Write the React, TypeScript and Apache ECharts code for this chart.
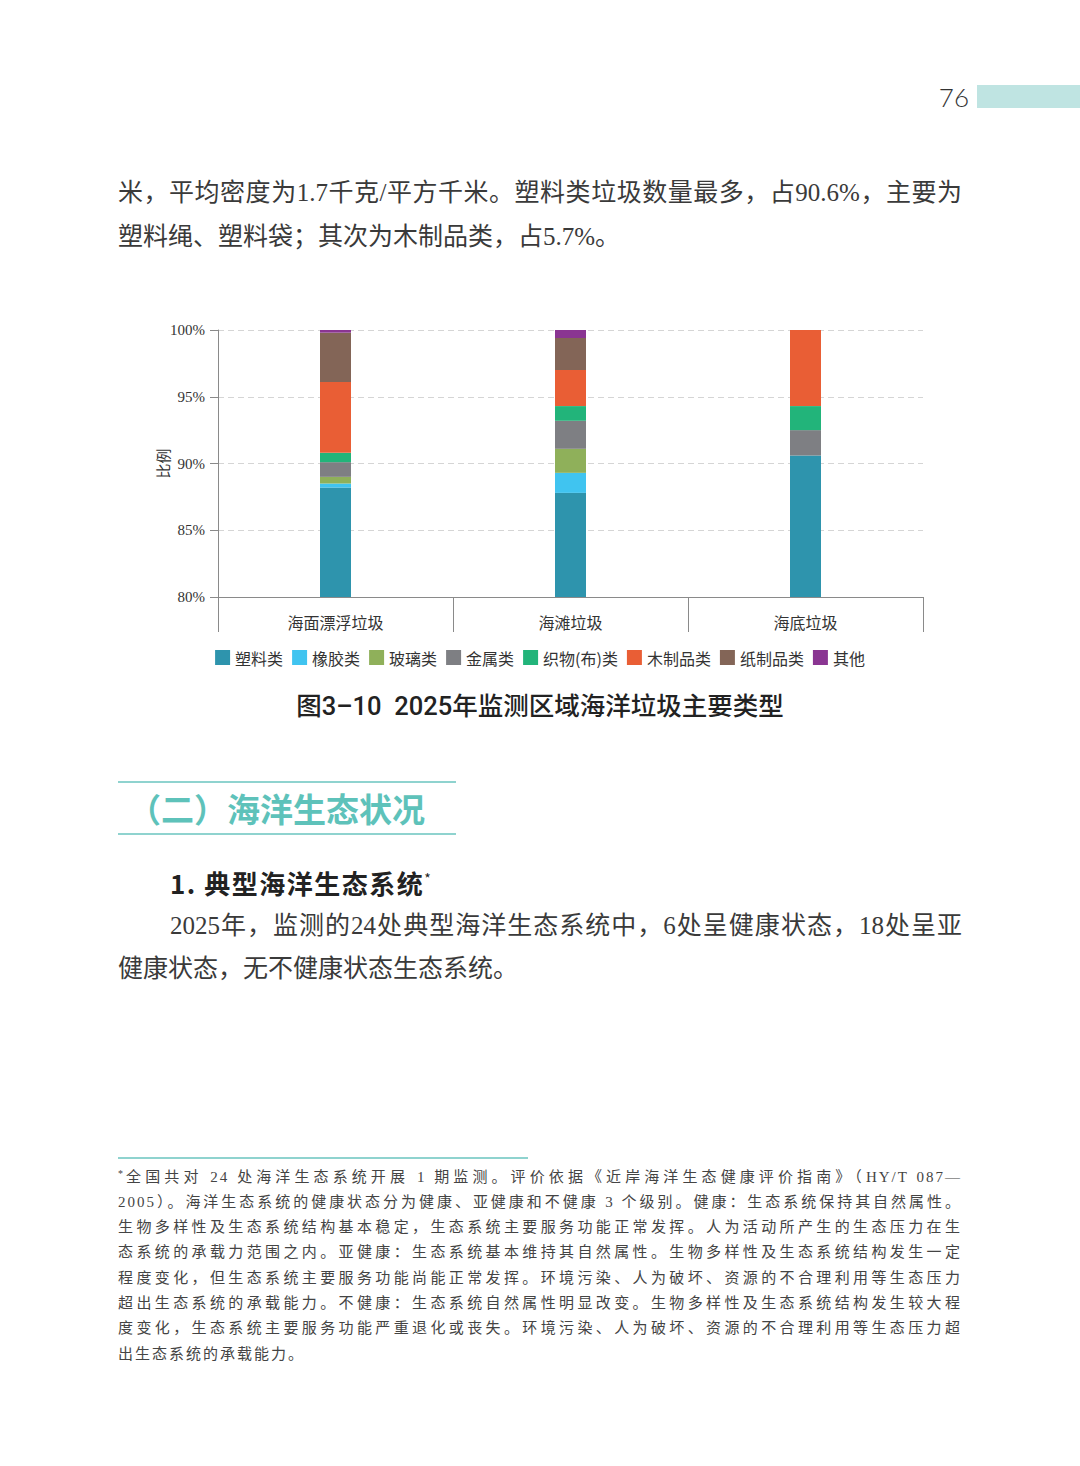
import { useEffect, useRef } from "react";
import type { ReactNode } from "react";
import * as echarts from "echarts";

// 垃圾类别与各区域占比（%）
const categories = ["海面漂浮垃圾", "海滩垃圾", "海底垃圾"];
const typeNames = ["塑料类", "橡胶类", "玻璃类", "金属类", "织物(布)类", "木制品类", "纸制品类", "其他"];
const typeColors = ["#2e94ad", "#40c4f0", "#8fb05a", "#7e7f83", "#22b47a", "#e95e35", "#836557", "#8a3592"];
const plastic = [88.2, 87.8, 90.6];
const rubber = [0.3, 1.5, 0];
const glass = [0.5, 1.8, 0];
const metal = [1.1, 2.1, 1.9];
const textile = [0.7, 1.1, 1.8];
const wood = [5.3, 2.7, 5.7];
const paper = [3.7, 2.4, 0];
const other = [0.2, 0.6, 0];
const typeValues = [plastic, rubber, glass, metal, textile, wood, paper, other];

const caption = "图3–10  2025年监测区域海洋垃圾主要类型";

const para1 = [
  "米，平均密度为1.7千克/平方千米。塑料类垃圾数量最多，占90.6%，主要为",
  "塑料绳、塑料袋；其次为木制品类，占5.7%。",
];
const para2 = [
  "2025年，监测的24处典型海洋生态系统中，6处呈健康状态，18处呈亚",
  "健康状态，无不健康状态生态系统。",
];
const footnote = [
  "全国共对 24 处海洋生态系统开展 1 期监测。评价依据《近岸海洋生态健康评价指南》（HY/T 087—",
  "2005）。海洋生态系统的健康状态分为健康、亚健康和不健康 3 个级别。健康：生态系统保持其自然属性。",
  "生物多样性及生态系统结构基本稳定，生态系统主要服务功能正常发挥。人为活动所产生的生态压力在生",
  "态系统的承载力范围之内。亚健康：生态系统基本维持其自然属性。生物多样性及生态系统结构发生一定",
  "程度变化，但生态系统主要服务功能尚能正常发挥。环境污染、人为破坏、资源的不合理利用等生态压力",
  "超出生态系统的承载能力。不健康：生态系统自然属性明显改变。生物多样性及生态系统结构发生较大程",
  "度变化，生态系统主要服务功能严重退化或丧失。环境污染、人为破坏、资源的不合理利用等生态压力超",
  "出生态系统的承载能力。",
];

const serifCjk = '"Liberation Serif", "Noto Sans CJK SC", serif';
const sansCjk = '"Noto Sans CJK SC", sans-serif';
const teal = "#5ec2ba";
const tealLine = "#8fd3cf";
const axisGray = "#8a8a8a";

function TrashChart() {
  const nodeRef = useRef<HTMLDivElement | null>(null);

  useEffect(() => {
    if (!nodeRef.current) return;
    const chart = echarts.init(nodeRef.current, undefined, { renderer: "svg" });
    chart.setOption({
      animation: false,
      grid: { left: 218, right: 157, top: 30, bottom: 143 },
      title: {
        text: caption,
        left: "center",
        top: 393,
        padding: 0,
        textStyle: { fontFamily: '"Roboto", "Noto Sans CJK SC", sans-serif', fontSize: 25.5, fontWeight: 500, color: "#222" },
      },
      legend: {
        data: typeNames,
        top: 349.5,
        left: "center",
        padding: 0,
        icon: "rect",
        itemWidth: 15,
        itemHeight: 15,
        itemGap: 9,
        textStyle: { fontFamily: sansCjk, fontSize: 16, color: "#333" },
      },
      xAxis: {
        type: "category",
        data: categories,
        axisLine: { lineStyle: { color: axisGray, width: 1 } },
        axisTick: { show: true, length: 35, interval: 0, lineStyle: { color: axisGray } },
        axisLabel: { margin: 17, fontSize: 16, color: "#333", fontFamily: sansCjk },
      },
      yAxis: {
        type: "value",
        min: 80,
        max: 100,
        interval: 5,
        name: "比例",
        nameLocation: "middle",
        nameGap: 48,
        nameRotate: 90,
        nameMoveOverlap: false,
        nameTextStyle: { fontFamily: sansCjk, fontSize: 15, color: "#333" },
        axisLine: { show: true, lineStyle: { color: axisGray, width: 1 } },
        axisTick: { show: true, length: 8, lineStyle: { color: axisGray } },
        axisLabel: { formatter: "{value}%", margin: 13, fontSize: 15, color: "#333", fontFamily: '"Liberation Serif", serif' },
        splitLine: { lineStyle: { color: "#d5d5d5", type: [6, 4] } },
      },
      series: typeNames.map((name, i) => ({
        name,
        type: "bar",
        stack: "total",
        barWidth: 31,
        itemStyle: { color: typeColors[i] },
        data: typeValues[i],
      })),
    });
    return () => chart.dispose();
  }, []);

  return <div ref={nodeRef} style={{ position: "absolute", left: 0, top: 300, width: 1080, height: 440 }} />;
}

function line(key: string, content: ReactNode, left: number, top: number, width: number, justify: boolean, style: React.CSSProperties) {
  return (
    <div
      key={key}
      style={{
        position: "absolute",
        left,
        top,
        width,
        textAlign: justify ? "justify" : "left",
        textAlignLast: justify ? "justify" : "left",
        whiteSpace: "nowrap",
        ...style,
      }}
    >
      {content}
    </div>
  );
}

export default function App() {
  const body: React.CSSProperties = { fontFamily: serifCjk, fontSize: 25, lineHeight: "44px", color: "#3a3a3a" };
  const note: React.CSSProperties = { fontFamily: serifCjk, fontSize: 15, lineHeight: "25px", color: "#444", letterSpacing: 2 };

  return (
    <div style={{ position: "absolute", left: 0, top: 0, width: 1080, height: 1466, background: "#fff", overflow: "hidden" }}>
      {/* 页码 */}
      <div style={{ position: "absolute", right: 111, top: 82, fontFamily: "Lato, sans-serif", fontWeight: 300, fontSize: 26, lineHeight: "30px", color: "#333" }}>76</div>
      <div style={{ position: "absolute", left: 977, top: 85, width: 103, height: 23, background: "#bfe4e2" }} />

      {line("p1a", para1[0], 118, 171, 844, true, body)}
      {line("p1b", para1[1], 118, 215, 844, false, body)}

      <TrashChart />

      {/* 小节标题 */}
      <div style={{ position: "absolute", left: 118, top: 781, width: 338, height: 1.5, background: tealLine }} />
      <div style={{ position: "absolute", left: 128, top: 788, fontFamily: sansCjk, fontWeight: "bold", fontSize: 33, lineHeight: "40px", color: teal, whiteSpace: "nowrap" }}>
        （二）海洋生态状况
      </div>
      <div style={{ position: "absolute", left: 118, top: 833, width: 338, height: 1.5, background: tealLine }} />

      <div style={{ position: "absolute", left: 170, top: 865, fontFamily: sansCjk, fontWeight: "bold", fontSize: 26, lineHeight: "36px", letterSpacing: 1.5, color: "#222", whiteSpace: "nowrap" }}>
        1. 典型海洋生态系统<span style={{ fontSize: 14, fontWeight: "normal", position: "relative", top: -10 }}>*</span>
      </div>

      {line("p2a", para2[0], 170, 904, 792, true, body)}
      {line("p2b", para2[1], 118, 947, 844, false, body)}

      {/* 脚注 */}
      <div style={{ position: "absolute", left: 118, top: 1157, width: 410, height: 1.5, background: tealLine }} />
      {footnote.map((t, i) =>
        line(
          "fn" + i,
          i === 0 ? (
            <>
              <span style={{ fontSize: 10, position: "relative", top: -5, letterSpacing: 1 }}>*</span>
              {t}
            </>
          ) : (
            t
          ),
          118,
          1164.5 + i * 25.3,
          844,
          i < footnote.length - 1,
          note,
        ),
      )}
    </div>
  );
}
